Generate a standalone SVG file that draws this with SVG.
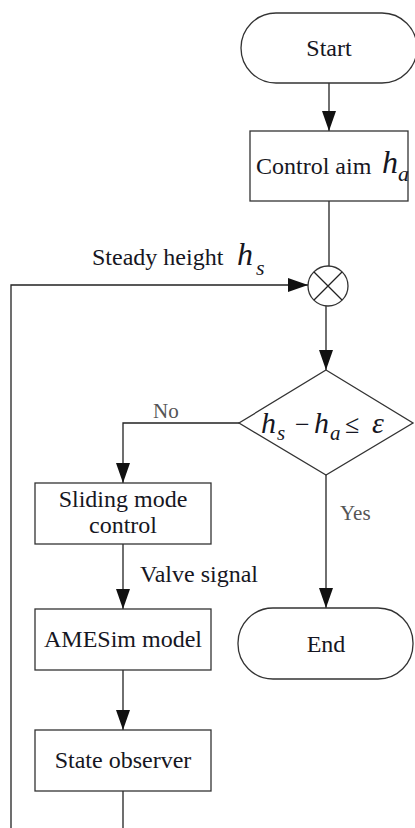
<svg xmlns="http://www.w3.org/2000/svg" width="415" height="828" viewBox="0 0 415 828">
<defs>
<marker id="arr" markerUnits="userSpaceOnUse" markerWidth="22" markerHeight="16" refX="20" refY="7" orient="auto">
<path d="M0,0 L20,7 L0,14 Z" fill="#111"/>
</marker>
<style>
.shape{fill:#fff;stroke:#333;stroke-width:1.3}
.line{fill:none;stroke:#222;stroke-width:1.3}
.t{font-family:"Liberation Serif","Times New Roman",serif;font-size:24px;fill:#161622}
.lbl{font-family:"Liberation Serif","Times New Roman",serif;font-size:21px;fill:#555}
.m{font-family:"Liberation Serif","Times New Roman",serif;font-style:italic;fill:#161622}
.mu{font-family:"Liberation Serif","Times New Roman",serif;fill:#161622}
</style>
</defs>
<rect width="415" height="828" fill="#fff"/>
<g id="connectors">
<path class="line" d="M329,83 V131" marker-end="url(#arr)"/>
<path class="line" d="M329,201 V266"/>
<path class="line" d="M326,306 V370" marker-end="url(#arr)"/>
<path class="line" d="M239,423 H123 V483" marker-end="url(#arr)"/>
<path class="line" d="M326,475 V608" marker-end="url(#arr)"/>
<path class="line" d="M123,544 V609" marker-end="url(#arr)"/>
<path class="line" d="M123,670 V730" marker-end="url(#arr)"/>
<path class="line" d="M123,791 V850 H11 V285 H308" marker-end="url(#arr)"/>
<text class="lbl" x="153" y="418">No</text>
<text class="lbl" x="340" y="520">Yes</text>
<text class="t" x="140" y="582">Valve signal</text>
<text class="t" x="92" y="265">Steady height</text>
<text class="m" x="237" y="265" font-size="32">h</text>
<text class="m" x="256" y="275" font-size="22">s</text>
</g>
<g id="start">
<rect class="shape" x="241" y="13" width="176" height="70" rx="35" ry="35"/>
<text class="t" x="329" y="56" text-anchor="middle">Start</text>
</g>
<g id="control-aim">
<rect class="shape" x="250" y="131" width="158" height="70"/>
<text class="t" x="256" y="174">Control aim</text>
<text class="m" x="382" y="173" font-size="32">h</text>
<text class="m" x="398" y="181" font-size="22">a</text>
</g>
<g id="sum">
<circle class="shape" cx="328" cy="286" r="20"/>
<path class="line" d="M314,272 L342,300 M342,272 L314,300"/>
</g>
<g id="decision">
<polygon class="shape" points="326,370 413,423 326,475 239,423"/>
<text class="m" x="261" y="433" font-size="30">h</text>
<text class="m" x="277" y="440" font-size="21">s</text>
<text class="mu" x="295" y="433" font-size="26">−</text>
<text class="m" x="314" y="433" font-size="30">h</text>
<text class="m" x="330" y="440" font-size="21">a</text>
<text class="mu" x="345" y="433" font-size="26">≤</text>
<text class="m" x="372" y="433" font-size="30">ε</text>
</g>
<g id="sliding">
<rect class="shape" x="35" y="483" width="176" height="61"/>
<text class="t" x="123" y="507" text-anchor="middle">Sliding mode</text>
<text class="t" x="123" y="533" text-anchor="middle">control</text>
</g>
<g id="end">
<rect class="shape" x="238" y="608" width="175" height="71" rx="35" ry="35"/>
<text class="t" x="326" y="652" text-anchor="middle">End</text>
</g>
<g id="amesim">
<rect class="shape" x="35" y="609" width="176" height="61"/>
<text class="t" x="123" y="647" text-anchor="middle">AMESim model</text>
</g>
<g id="observer">
<rect class="shape" x="35" y="730" width="176" height="61"/>
<text class="t" x="123" y="768" text-anchor="middle">State observer</text>
</g>
</svg>
